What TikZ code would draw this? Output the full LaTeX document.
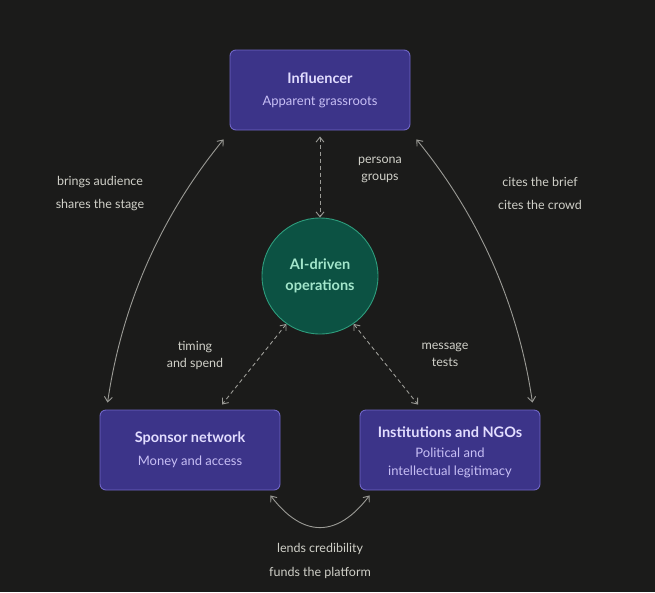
\documentclass[tikz,border=0pt]{standalone}
\usepackage{fontspec}
\setmainfont{Lato}
\usetikzlibrary{arrows.meta}
\definecolor{bgc}{HTML}{1B1B1A}
\definecolor{boxfill}{HTML}{3C3489}
\definecolor{boxline}{HTML}{6F65C6}
\definecolor{titlec}{HTML}{E2DDFF}
\definecolor{subc}{HTML}{C7BFF5}
\definecolor{circfill}{HTML}{0C5243}
\definecolor{circline}{HTML}{2E9C7C}
\definecolor{circtext}{HTML}{A3E6CB}
\definecolor{labc}{HTML}{D0D0C8}
\definecolor{arrc}{HTML}{9B9B96}
\tikzset{
  actor/.style={draw=boxline, line width=0.9pt, fill=boxfill, rounded corners=6pt,
    minimum width=180pt, minimum height=80pt, inner sep=0pt, align=center},
  hub/.style={draw=circline, line width=0.9pt, fill=circfill, circle,
    minimum size=116pt, inner sep=0pt, align=center,
    font=\fontsize{14.5}{21}\selectfont\bfseries, text=circtext},
  ttl/.style={font=\fontsize{14.5}{17}\selectfont\bfseries, text=titlec},
  sub/.style={font=\fontsize{13}{18}\selectfont, text=subc, align=center},
  lab/.style={font=\fontsize{12.5}{17}\selectfont, text=labc, align=center},
  solidarr/.style={draw=arrc, line width=0.9pt, {Straight Barb[length=5pt,width=8pt]}-{Straight Barb[length=5pt,width=8pt]}},
  dasharr/.style={draw=arrc, line width=0.9pt, dash pattern=on 4pt off 3pt, {Straight Barb[length=5pt,width=8pt]}-{Straight Barb[length=5pt,width=8pt]}}
}
\begin{document}
\begin{tikzpicture}[x=1pt,y=-1pt]
\fill[bgc] (0,0) rectangle (655,592);
\useasboundingbox (0,0) rectangle (655,592);

\node[actor] (inf) at (320,90) {};
\node[ttl] at (320,78) {Influencer};
\node[sub] at (320,102) {Apparent grassroots};

\node[actor] (spon) at (190,450) {};
\node[ttl] at (190,438) {Sponsor network};
\node[sub] at (190,462) {Money and access};

\node[actor] (inst) at (450,450) {};
\node[ttl] at (450,432) {Institutions and NGOs};
\node[sub] at (450,463) {Political and\\intellectual legitimacy};

\node[hub] (ai) at (320,276) {AI-driven\\operations};

% dashed connectors
\draw[dasharr] ([yshift=-6pt]inf.south) -- (ai.north);
\draw[dasharr] (ai.235) -- ([shift={(32,-5)}]spon.north);
\draw[dasharr] (ai.305) -- ([shift={(-32,-5)}]inst.north);

% solid curves
\draw[solidarr] ([shift={(-6,9)}]inf.south west) .. controls (161,216) and (122,304) .. ([shift={(8,-7)}]spon.north west);
\draw[solidarr] ([shift={(6,9)}]inf.south east) .. controls (479,216) and (518,304) .. ([shift={(-8,-7)}]inst.north east);
\draw[solidarr] ([shift={(-10,5)}]spon.south east) .. controls (303,538) and (337,538) .. ([shift={(10,5)}]inst.south west);

% labels
\node[lab] at (100,182) {brings audience};
\node[lab] at (100,205) {shares the stage};
\node[lab] at (540,182) {cites the brief};
\node[lab] at (540,205) {cites the crowd};
\node[lab] at (380,170) {persona\\groups};
\node[lab] at (195,355) {timing\\and spend};
\node[lab] at (445,355) {message\\tests};
\node[lab] at (320,549) {lends credibility};
\node[lab] at (320,573) {funds the platform};
\end{tikzpicture}
\end{document}
